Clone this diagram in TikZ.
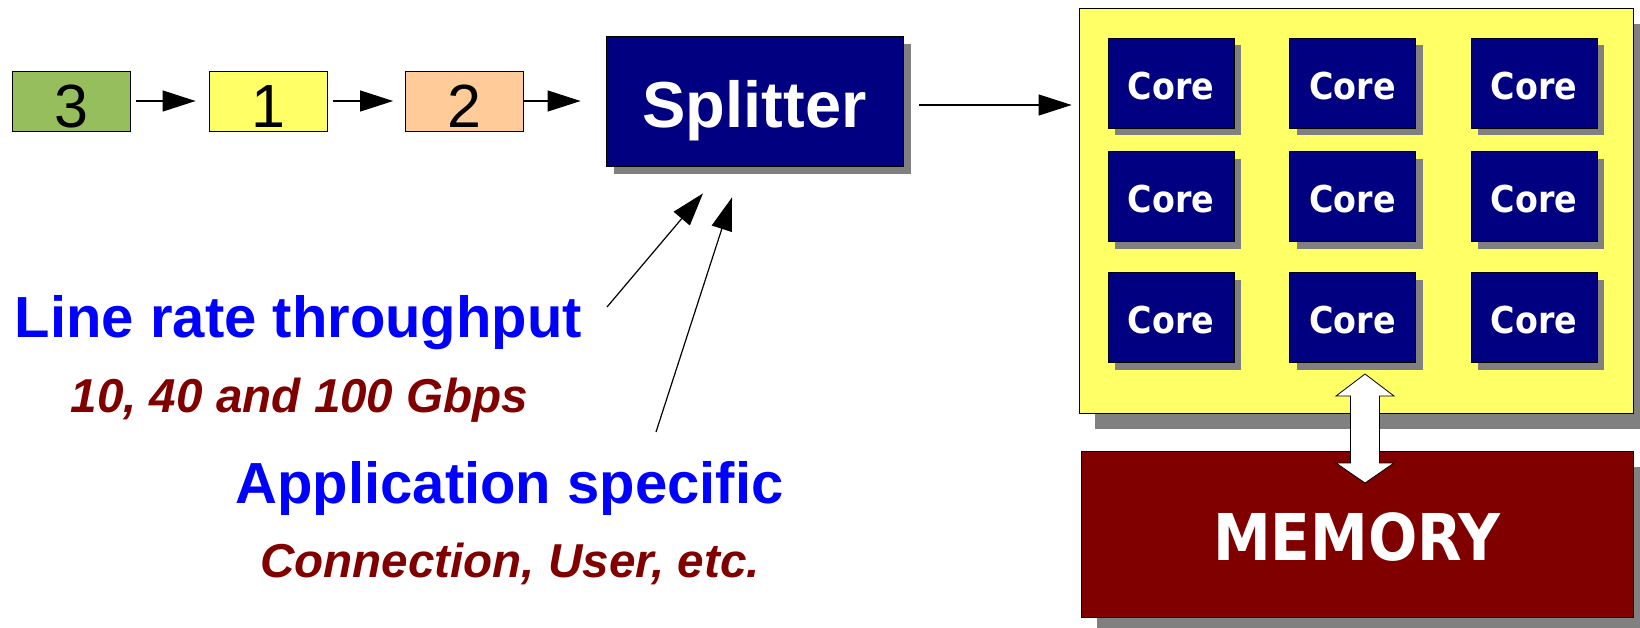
\documentclass[tikz,border=0pt]{standalone}
\usepackage{fontspec}
\setmainfont{Liberation Sans}
\newfontfamily\corefont{DejaVu Sans Condensed}[BoldFont={DejaVu Sans Condensed Bold}]
\usetikzlibrary{arrows.meta,shadows}

\definecolor{navybox}{RGB}{0,0,128}
\definecolor{darkred}{RGB}{128,0,0}
\definecolor{shadowgray}{RGB}{128,128,128}
\definecolor{panelyellow}{RGB}{255,255,102}
\definecolor{pktgreen}{RGB}{150,190,92}
\definecolor{pktyellow}{RGB}{255,255,102}
\definecolor{pktpeach}{RGB}{255,204,153}

\tikzset{
  px/.style={x=1pt,y=-1pt},
  shadowed/.style={drop shadow={shadow xshift=#1, shadow yshift=-#1, fill=shadowgray, opacity=1}},
  packet/.style={draw=black, line width=0.8pt, minimum width=118pt, minimum height=60pt,
    inner sep=0pt, font=\fontsize{61}{61}\selectfont, text height=52pt, text depth=0pt},
  darkbox/.style={draw=black, line width=0.8pt, fill=navybox, inner sep=0pt, text=white},
  core/.style={darkbox, shadowed=7pt, minimum width=126pt, minimum height=90pt,
    font=\corefont\bfseries\fontsize{37}{37}\selectfont, text height=32pt, text depth=0pt},
  flow/.style={line width=1.2pt, -{Triangle[length=33pt,width=21pt]}},
  heading/.style={text=blue, font=\bfseries\fontsize{58}{58}\selectfont, inner sep=0pt, anchor=base},
  note/.style={text=darkred, font=\bfseries\itshape\fontsize{47.6}{47.6}\selectfont, inner sep=0pt, anchor=base},
}

\begin{document}
\begin{tikzpicture}[px]
\useasboundingbox (0,0) rectangle (1640,627);

% packet queue
\node[packet, fill=pktgreen]  (p3) at (71,101)  {3};
\node[packet, fill=pktyellow] (p1) at (268,101) {1};
\node[packet, fill=pktpeach]  (p2) at (464.5,101) {2};

% splitter
\node[darkbox, shadowed=8pt, minimum width=297pt, minimum height=130pt,
      font=\bfseries\fontsize{65}{65}\selectfont, text height=52pt, text depth=0pt]
      (split) at (754.5,101) {Splitter};

% multicore chip
\node[draw=black, line width=0.8pt, fill=panelyellow, shadowed=16pt,
      minimum width=554pt, minimum height=405pt, inner sep=0pt] (chip) at (1356,210.5) {};
\foreach \c/\cx in {1/1171,2/1352.5,3/1534}
  \foreach \r/\ry in {1/83,2/196.5,3/317.5}
    \node[core] (core-\r-\c) at (\cx,\ry) {Core};

% memory
\node[draw=black, line width=0.8pt, fill=darkred, shadowed=16pt, text=white,
      minimum width=552pt, minimum height=166pt, inner sep=0pt,
      font=\corefont\bfseries\fontsize{64.5}{64.5}\selectfont, text height=52pt, text depth=0pt]
      (mem) at (1357,534) {MEMORY};

% chip <-> memory block arrow
\draw[fill=white, line width=0.8pt]
  (1365,374) -- (1394,396) -- (1379.5,396) -- (1379.5,463) -- (1394,463)
  -- (1365,483) -- (1336,463) -- (1350.5,463) -- (1350.5,396) -- (1336,396) -- cycle;

% queue arrows
\draw[flow, shorten <=6pt, shorten >=13pt] (p3) -- (p1);
\draw[flow, shorten <=6pt, shorten >=12pt] (p1) -- (p2);
\draw[flow, shorten >=25pt] (p2) -- (split);
\draw[flow, shorten <=16pt, shorten >=7pt] ([yshift=-4pt]split.east) -- ([yshift=-4pt]split.east -| chip.west);

% labels
\node[heading] (rate) at (298.5,337) {Line rate throughput};
\node[note] (speeds) at (299.5,412) {10, 40 and 100 Gbps};
\node[heading] (app) at (509.5,503) {Application specific};
\node[note] (keys) at (510,577) {Connection, User, etc.};

\coordinate (rate-end) at (607,307);
\coordinate (app-end) at (656,432);
\coordinate (rate-tip) at ([shift={(-51.5pt,-27pt)}]split.south);
\coordinate (app-tip) at ([shift={(-22.5pt,-31pt)}]split.south);
\draw[flow] (rate-end) -- (rate-tip);
\draw[flow] (app-end) -- (app-tip);
\end{tikzpicture}
\end{document}
